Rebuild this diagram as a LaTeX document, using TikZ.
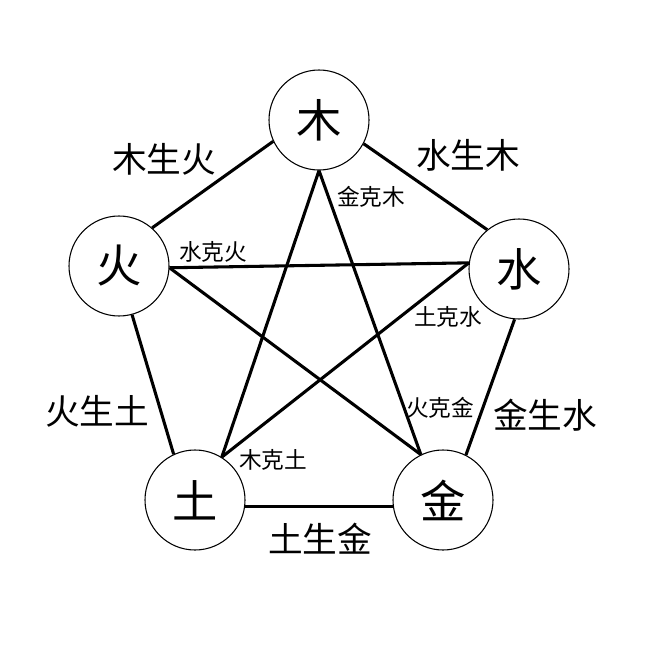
\documentclass[tikz,border=0pt]{standalone}
\usepackage{fontspec}
\setmainfont{Noto Sans CJK SC}
\begin{document}
\begin{tikzpicture}[x=0.75pt,y=-0.75pt,
  elem/.style={circle,draw,line width=0.8pt,minimum size=75pt,inner sep=0pt,font=\fontsize{34}{34}\selectfont},
  biglab/.style={font=\fontsize{26}{26}\selectfont,inner sep=0pt},
  smalllab/.style={font=\fontsize{17}{17}\selectfont,inner sep=0pt},
  edge/.style={line width=2.3pt}]
\useasboundingbox (0,0) rectangle (656,656);
\node[elem] (mu) at (319,120) {木};
\node[elem] (huo) at (119,266) {火};
\node[elem] (shui) at (519,269) {水};
\node[elem] (tu) at (195,500) {土};
\node[elem] (jin) at (443,500) {金};
% generating cycle
\draw[edge] (mu.205) -- (huo.49);
\draw[edge] (mu.-28) -- (shui.129);
\draw[edge] (huo.-75) -- (tu.115);
\draw[edge] (shui.-95) -- (jin.63);
\draw[edge] (tu.-7) -- (jin.187);
% controlling star
\draw[edge] (mu.-90) -- (tu.58);
\draw[edge] (mu.-90) -- (jin.116);
\draw[edge] (huo.-2) -- (shui.173);
\draw[edge] (huo.-2) -- (jin.116);
\draw[edge] (shui.173) -- (tu.58);
% labels
\node[biglab] (l1) at (164,159) {木生火};
\node[biglab] (l2) at (468,155) {水生木};
\node[biglab] (l3) at (97,411) {火生土};
\node[biglab] (l4) at (545,415) {金生水};
\node[biglab] (l5) at (320,539) {土生金};
\node[smalllab] (s1) at (371,197) {金克木};
\node[smalllab] (s2) at (213,252) {水克火};
\node[smalllab] (s3) at (448,317) {土克水};
\node[smalllab] (s4) at (440,408) {火克金};
\node[smalllab] (s5) at (273,460) {木克土};
\end{tikzpicture}
\end{document}
